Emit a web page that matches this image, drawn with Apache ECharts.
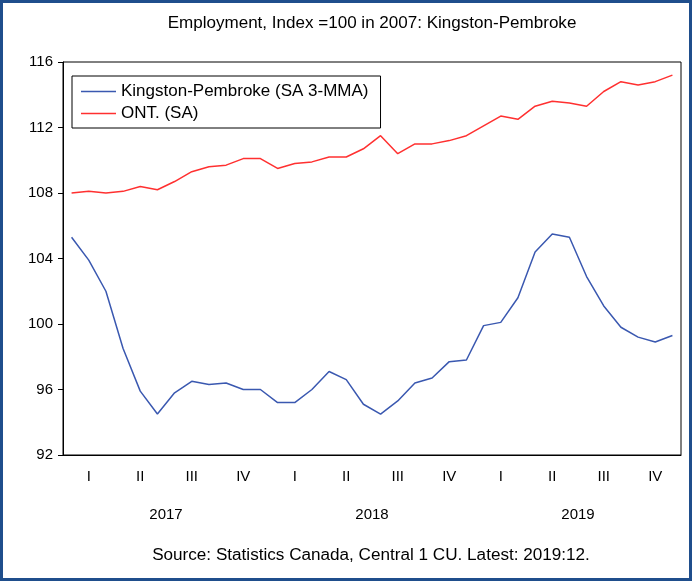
<!DOCTYPE html>
<html>
<head>
<meta charset="utf-8">
<script src="https://cdn.jsdelivr.net/npm/echarts@6/dist/echarts.min.js"></script>
<style>
  body { margin: 0; background: #fff; }
  #main { width: 692px; height: 581px; }
</style>
</head>
<body>
<div id="main"></div>
<script>
    var myChart = echarts.init(document.getElementById('main'));

    // 月份 2017:01 - 2019:12
    var months = [];
    ['2017', '2018', '2019'].forEach(function (y) {
        for (var m = 1; m <= 12; m++) {
            months.push(y + ':' + String(m).padStart(2, '0'));
        }
    });
    var quarterLabels = ['I', 'II', 'III', 'IV', 'I', 'II', 'III', 'IV', 'I', 'II', 'III', 'IV'];
    var yearLabels = ['2017', '2018', '2019'];

    // Kingston-Pembroke (SA 3-MMA)
    var kingston = [105.3, 103.9, 102.0, 98.5, 95.9, 94.5, 95.8, 96.5, 96.3, 96.4, 96.0, 96.0,
        95.2, 95.2, 96.0, 97.1, 96.6, 95.1, 94.5, 95.3, 96.4, 96.7, 97.7, 97.8,
        99.9, 100.1, 101.6, 104.4, 105.5, 105.3, 102.9, 101.1, 99.8, 99.2, 98.9, 99.3];

    // ONT. (SA)
    var ontario = [108.0, 108.1, 108.0, 108.1, 108.4, 108.2, 108.7, 109.3, 109.6, 109.7, 110.1, 110.1,
        109.5, 109.8, 109.9, 110.2, 110.2, 110.7, 111.5, 110.4, 111.0, 111.0, 111.2, 111.5,
        112.1, 112.7, 112.5, 113.3, 113.6, 113.5, 113.3, 114.2, 114.8, 114.6, 114.8, 115.2];

    var titleText = 'Employment, Index =100 in 2007: Kingston-Pembroke';
    var sourceText = 'Source: Statistics Canada, Central 1 CU. Latest: 2019:12.';

    var font = 'Liberation Sans, Arial, sans-serif';

    var option = {
        animation: false,
        legend: {
            orient: 'vertical',
            left: 72,
            top: 76,
            padding: [7, 12, 6, 9],
            itemGap: 5,
            itemWidth: 35,
            itemHeight: 1.5,
            icon: 'rect',
            borderColor: '#000',
            borderWidth: 1,
            textStyle: { fontSize: 17, color: '#000', fontFamily: font },
            data: ['Kingston-Pembroke (SA 3-MMA)', 'ONT. (SA)']
        },
        grid: {
            left: 63, right: 11, top: 62, bottom: 126,
            show: true, borderColor: '#000', borderWidth: 1
        },
        xAxis: [{
            type: 'category',
            data: months,
            boundaryGap: true,
            axisLine: { lineStyle: { color: '#000' } },
            axisTick: { interval: 0, length: 4, lineStyle: { color: '#000' } },
            axisLabel: { show: false }
        }, {
            type: 'category',
            data: quarterLabels,
            position: 'bottom',
            boundaryGap: true,
            axisLine: { show: false },
            axisTick: { interval: 0, length: 8, lineStyle: { color: '#000' } },
            axisLabel: { interval: 0, margin: 14, fontSize: 15, color: '#000', fontFamily: font }
        }, {
            type: 'category',
            data: yearLabels,
            position: 'bottom',
            boundaryGap: true,
            axisLine: { show: false },
            axisTick: { show: false },
            axisLabel: { interval: 0, margin: 52, fontSize: 15, color: '#000', fontFamily: font }
        }],
        yAxis: {
            type: 'value',
            min: 92,
            max: 116,
            interval: 4,
            splitLine: { show: false },
            axisLine: { show: true, lineStyle: { color: '#000' } },
            axisTick: { show: true, length: 5, lineStyle: { color: '#000' } },
            axisLabel: { margin: 10, fontSize: 15, color: '#000', fontFamily: font }
        },
        series: [{
            name: 'Kingston-Pembroke (SA 3-MMA)',
            type: 'line',
            data: kingston,
            symbol: 'none',
            color: '#3A58B0',
            lineStyle: { width: 1.5, color: '#3A58B0' }
        }, {
            name: 'ONT. (SA)',
            type: 'line',
            data: ontario,
            symbol: 'none',
            color: '#FF3030',
            lineStyle: { width: 1.5, color: '#FF3030' }
        }],
        graphic: [{
            type: 'rect',
            shape: { x: 1.5, y: 1.5, width: 689, height: 578 },
            style: { fill: null, stroke: '#1F4E8C', lineWidth: 3 },
            silent: true
        }, {
            // 標題
            type: 'text',
            x: 372, y: 24,
            scaleX: 1.065,
            style: {
                text: titleText, x: 0, y: 0,
                textAlign: 'center', textVerticalAlign: 'middle',
                fontSize: 16, fontFamily: font, fill: '#000'
            }
        }, {
            // 資料來源
            type: 'text',
            x: 371, y: 556,
            scaleX: 1.07,
            style: {
                text: sourceText, x: 0, y: 0,
                textAlign: 'center', textVerticalAlign: 'middle',
                fontSize: 16, fontFamily: font, fill: '#000'
            }
        }]
    };

    myChart.setOption(option);
</script>
</body>
</html>
